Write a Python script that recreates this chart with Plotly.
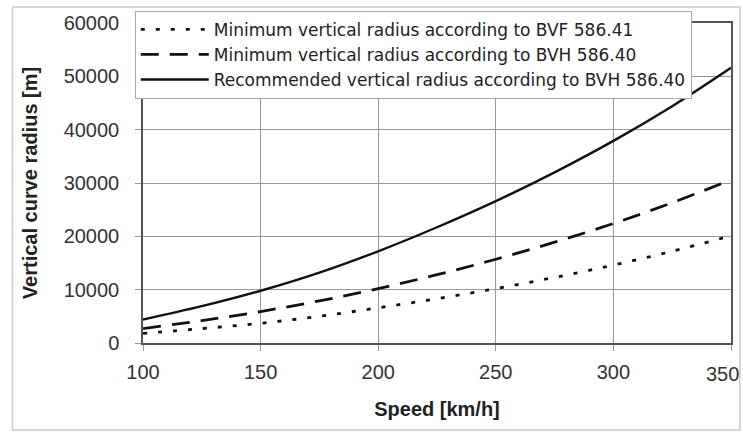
import plotly.graph_objects as go

speed = [100, 125, 150, 175, 200, 225, 250, 275, 300, 325, 350]
bvf_min = [1800, 2700, 3700, 5000, 6600, 8300, 10200, 12300, 14600, 17200, 20100]
bvh_min = [2700, 4200, 5900, 7900, 10200, 12800, 15700, 18900, 22400, 26300, 30600]
bvh_rec = [4400, 6900, 9800, 13200, 17200, 21700, 26600, 32000, 37900, 44400, 51600]

names = [
    "Minimum vertical radius according to BVF 586.41",
    "Minimum vertical radius according to BVH 586.40",
    "Recommended vertical radius according to BVH 586.40",
]
x_ticks = [100, 150, 200, 250, 300, 350]
y_ticks = [0, 10000, 20000, 30000, 40000, 50000, 60000]

fig = go.Figure()
fig.add_trace(go.Scatter(x=speed, y=bvf_min, mode="lines", name=names[0],
                         line=dict(color="#111", width=2.8, dash="4px,11px", shape="spline")))
fig.add_trace(go.Scatter(x=speed, y=bvh_min, mode="lines", name=names[1],
                         line=dict(color="#111", width=2.8, dash="18px,11px", shape="spline")))
fig.add_trace(go.Scatter(x=speed, y=bvh_rec, mode="lines", name=names[2],
                         line=dict(color="#111", width=2.4, shape="spline")))

font = "Liberation Sans, Arial, sans-serif"
fig.update_layout(
    width=743, height=437,
    margin=dict(l=143, r=12, t=22, b=94),
    paper_bgcolor="white", plot_bgcolor="white",
    font=dict(family=font, color="#222", size=16),
    showlegend=True,
    legend=dict(x=-0.014, y=1.035, xanchor="left", yanchor="top",
                bgcolor="white", bordercolor="#aaa", borderwidth=1,
                font=dict(family="DejaVu Sans, sans-serif", size=17, color="#222"),
                tracegroupgap=0, itemwidth=68),
    xaxis=dict(range=[100, 350], tickvals=x_ticks, ticktext=[str(v) for v in x_ticks],
               showgrid=True, gridcolor="#999", gridwidth=1.3,
               showline=True, linecolor="#555", linewidth=1.5, mirror=True,
               ticks="outside", ticklen=6, tickcolor="#999", ticklabelstandoff=4,
               tickfont=dict(size=20, color="#333"), automargin=False,
               title=dict(text="<b>Speed [km/h]</b>", font=dict(size=20, color="#222"), standoff=20),
               zeroline=False),
    yaxis=dict(range=[0, 60000], tickvals=y_ticks, ticktext=[str(v) for v in y_ticks],
               showgrid=True, gridcolor="#999", gridwidth=1.3,
               showline=True, linecolor="#555", linewidth=1.5, mirror=True,
               ticks="outside", ticklen=6, tickcolor="#999", ticklabelstandoff=12,
               tickfont=dict(size=20, color="#333"), automargin=False,
               title=dict(text="<b>Vertical curve radius [m]</b>", font=dict(size=20, color="#222"), standoff=21),
               zeroline=False),
    shapes=[dict(type="rect", xref="paper", yref="paper",
                 x0=-0.222, x1=1.015, y0=-0.272, y1=1.05,
                 line=dict(color="#ccc", width=1.5), fillcolor="rgba(0,0,0,0)")],
    annotations=[dict(x=350, y=0, xref="x", yref="paper", yanchor="top", xanchor="right",
                      xshift=10, yshift=-18, text="350", showarrow=False,
                      font=dict(size=20, color="#333"))],
)

fig.write_html("out.html")
